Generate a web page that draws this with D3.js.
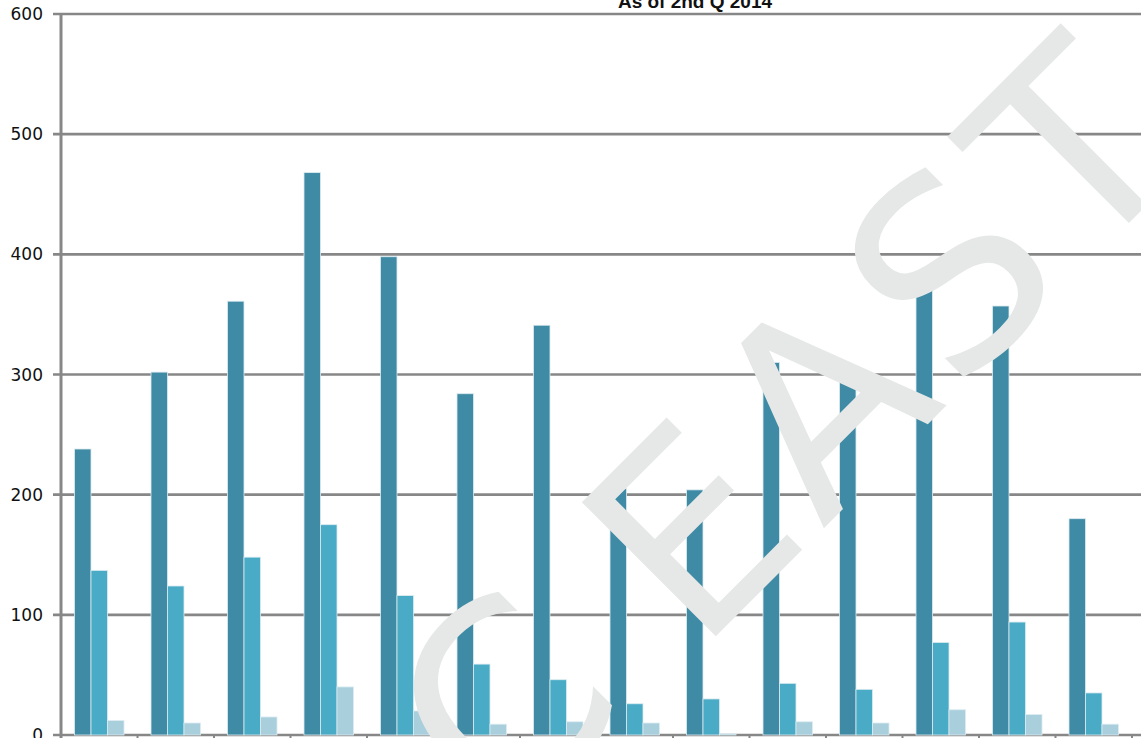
<!DOCTYPE html>
<html>
<head>
<meta charset="utf-8">
<script src="https://cdn.jsdelivr.net/npm/d3@7/dist/d3.min.js"></script>
<style>
  body { margin: 0; background: #fff; }
  svg { display: block; }
</style>
</head>
<body>
<div id="chart"></div>
<script>
// values, 14 groups x 3 series
var groups = d3.range(14);
var seriesNames = ["s1", "s2", "s3"];
var series1 = [238, 302, 361, 468, 398, 284, 341, 205, 204, 310, 300, 378, 357, 180];
var series2 = [137, 124, 148, 175, 116, 59, 46, 26, 30, 43, 38, 77, 94, 35];
var series3 = [12, 10, 15, 40, 20, 9, 11, 10, 1, 11, 10, 21, 17, 9];
var yTicks = [0, 100, 200, 300, 400, 500, 600];
var colors = ["#3f8ba5", "#4aabc7", "#a9cfdd"];

var margin = {top: 14, right: 0, bottom: 3, left: 61},
    width = 1141 - margin.left - margin.right,
    height = 738 - margin.top - margin.bottom;

var svg = d3.select("#chart").append("svg")
  .attr("width", 1141)
  .attr("height", 738);

var g = svg.append("g")
  .attr("transform", "translate(" + margin.left + "," + margin.top + ")");

var y = d3.scaleLinear()
  .domain([0, 600])
  .range([721, 0]);

var x0 = d3.scaleBand()
  .domain(groups)
  .range([0, 1071]);

var x1 = d3.scaleBand()
  .domain(seriesNames)
  .range([13.5, 63]);

// gridlines
g.append("g")
  .selectAll("line")
  .data(yTicks)
  .enter()
  .append("line")
  .attr("x1", -8)
  .attr("x2", width)
  .attr("y1", function(d){ return y(d); })
  .attr("y2", function(d){ return y(d); })
  .attr("stroke", "#878787")
  .attr("stroke-width", 2.6)

// bars
var rows = groups.map(function(i){
  return [series1[i], series2[i], series3[i]];
});

g.append("g")
  .selectAll("g")
  .data(rows)
  .enter()
  .append("g")
  .attr("transform", function(d, i){ return "translate(" + x0(i) + ",0)"; })
  .selectAll("rect")
  .data(function(d){ return d; })
  .enter()
  .append("rect")
  .attr("x", function(d, j){ return x1(seriesNames[j]); })
  .attr("width", x1.bandwidth())
  .attr("y", function(d){ return y(d); })
  .attr("height", function(d){ return y(0) - y(d); })
  .attr("fill", function(d, j){ return colors[j]; })
  .attr("stroke", "#dcecf1")
  .attr("stroke-width", 0.8)

// y axis line and labels
g.append("line")
  .attr("x1", 0).attr("x2", 0)
  .attr("y1", y(600)).attr("y2", y(0) + 4)
  .attr("stroke", "#878787")
  .attr("stroke-width", 3)

g.append("g")
  .selectAll("line")
  .data(groups.concat([14]))
  .enter()
  .append("line")
  .attr("x1", function(d){ return d < 14 ? x0(d) : 1071; })
  .attr("x2", function(d){ return d < 14 ? x0(d) : 1071; })
  .attr("y1", y(0))
  .attr("y2", y(0) + 6)
  .attr("stroke", "#878787")
  .attr("stroke-width", 2)

g.append("g")
  .selectAll("text")
  .data(yTicks)
  .enter()
  .append("text")
  .attr("x", -18)
  .attr("y", function(d){ return y(d); })
  .attr("dy", "0.36em")
  .attr("text-anchor", "end")
  .style("font-family", "DejaVu Sans")
  .style("font-size", "17px")
  .style("fill", "#111")
  .text(function(d){ return d; })

// watermark
var wm = svg.append("text")
  .attr("transform", "translate(494,858) rotate(-45)")
  .style("font-family", "DejaVu Sans")
  .style("font-size", "260px")
  .style("letter-spacing", "12px")
  .style("fill", "#e6e8e7")

wm.append("tspan")
  .attr("dx", 24).attr("dy", -10)
  .text("C")
wm.append("tspan")
  .attr("dx", -24).attr("dy", 10)
  .text(" EAST")

// title
svg.append("text")
  .attr("x", 695)
  .attr("y", 8)
  .attr("text-anchor", "middle")
  .style("font-family", "Liberation Sans")
  .style("font-weight", "bold")
  .style("font-size", "19px")
  .style("fill", "#111")
  .text("As of 2nd Q 2014")
</script>
</body>
</html>
